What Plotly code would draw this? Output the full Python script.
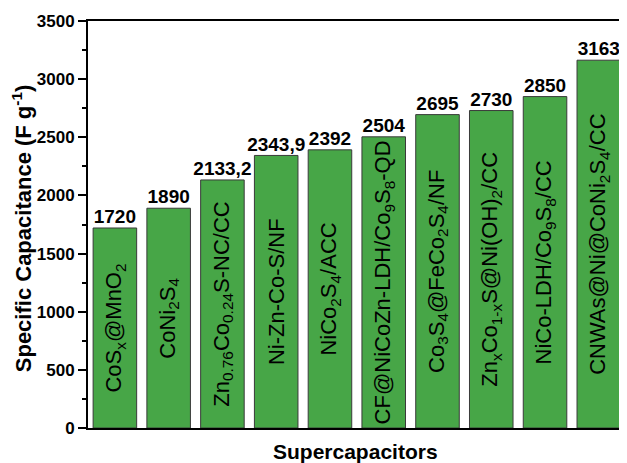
import plotly.graph_objects as go

categories = [
    "CoS<sub>x</sub>@MnO<sub>2</sub>",
    "CoNi<sub>2</sub>S<sub>4</sub>",
    "Zn<sub>0.76</sub>Co<sub>0.24</sub>S-NC/CC",
    "Ni-Zn-Co-S/NF",
    "NiCo<sub>2</sub>S<sub>4</sub>/ACC",
    "CF@NiCoZn-LDH/Co<sub>9</sub>S<sub>8</sub>-QD",
    "Co<sub>3</sub>S<sub>4</sub>@FeCo<sub>2</sub>S<sub>4</sub>/NF",
    "Zn<sub>x</sub>Co<sub>1-x</sub>S@Ni(OH)<sub>2</sub>/CC",
    "NiCo-LDH/Co<sub>9</sub>S<sub>8</sub>/CC",
    "CNWAs@Ni@CoNi<sub>2</sub>S<sub>4</sub>/CC",
]
values = [1720, 1890, 2133.2, 2343.9, 2392, 2504, 2695, 2730, 2850, 3163]
value_labels = ["1720", "1890", "2133,2", "2343,9", "2392", "2504", "2695", "2730", "2850", "3163"]
y_ticks = [0, 500, 1000, 1500, 2000, 2500, 3000, 3500]

x = list(range(len(categories)))
FONT = "Liberation Sans, Arial, sans-serif"

fig = go.Figure()
fig.add_trace(go.Bar(
    x=x, y=values, width=0.81,
    marker=dict(color="#47a647", line=dict(color="#3a3a3a", width=1)),
    text=categories, textposition="inside", insidetextanchor="middle",
    textangle=-90, constraintext="none",
    textfont=dict(family=FONT, size=22, color="black"),
    hoverinfo="skip",
))
fig.add_trace(go.Scatter(
    x=x, y=values, mode="text", text=value_labels,
    textposition="top center",
    textfont=dict(family=FONT, size=19, color="black", weight="bold"),
    hoverinfo="skip",
))

fig.update_layout(
    width=619, height=455,
    margin=dict(l=80, r=2, t=13, b=35),
    plot_bgcolor="white", paper_bgcolor="white",
    showlegend=False,
    font=dict(family=FONT, color="black"),
    xaxis=dict(range=[-0.5, 9.45], showticklabels=False, ticks="",
               showgrid=False, zeroline=False, showline=True,
               linecolor="black", linewidth=2, mirror=True),
    yaxis=dict(range=[0, 3500], tickvals=y_ticks, ticks="outside",
               ticklen=8, tickwidth=2, tickcolor="black",
               tickfont=dict(family=FONT, size=17, color="black", weight="bold"),
               minor=dict(dtick=250, ticks="outside", ticklen=4, tickwidth=2, tickcolor="black", showgrid=False),
               showgrid=False, zeroline=False, showline=True,
               linecolor="black", linewidth=2, mirror=True),
    annotations=[
        dict(text="Supercapacitors", xref="paper", yref="paper", x=0.5, y=-0.057,
             yanchor="middle", showarrow=False,
             font=dict(family=FONT, size=21, color="black", weight="bold")),
        dict(text="Specific Capacitance (F g<sup>-1</sup>)", xref="paper", yref="paper",
             x=-0.124, xanchor="center", y=0.49, yanchor="middle", textangle=-90, showarrow=False,
             font=dict(family=FONT, size=22, color="black", weight="bold")),
    ],
)

fig.write_html("out.html")
